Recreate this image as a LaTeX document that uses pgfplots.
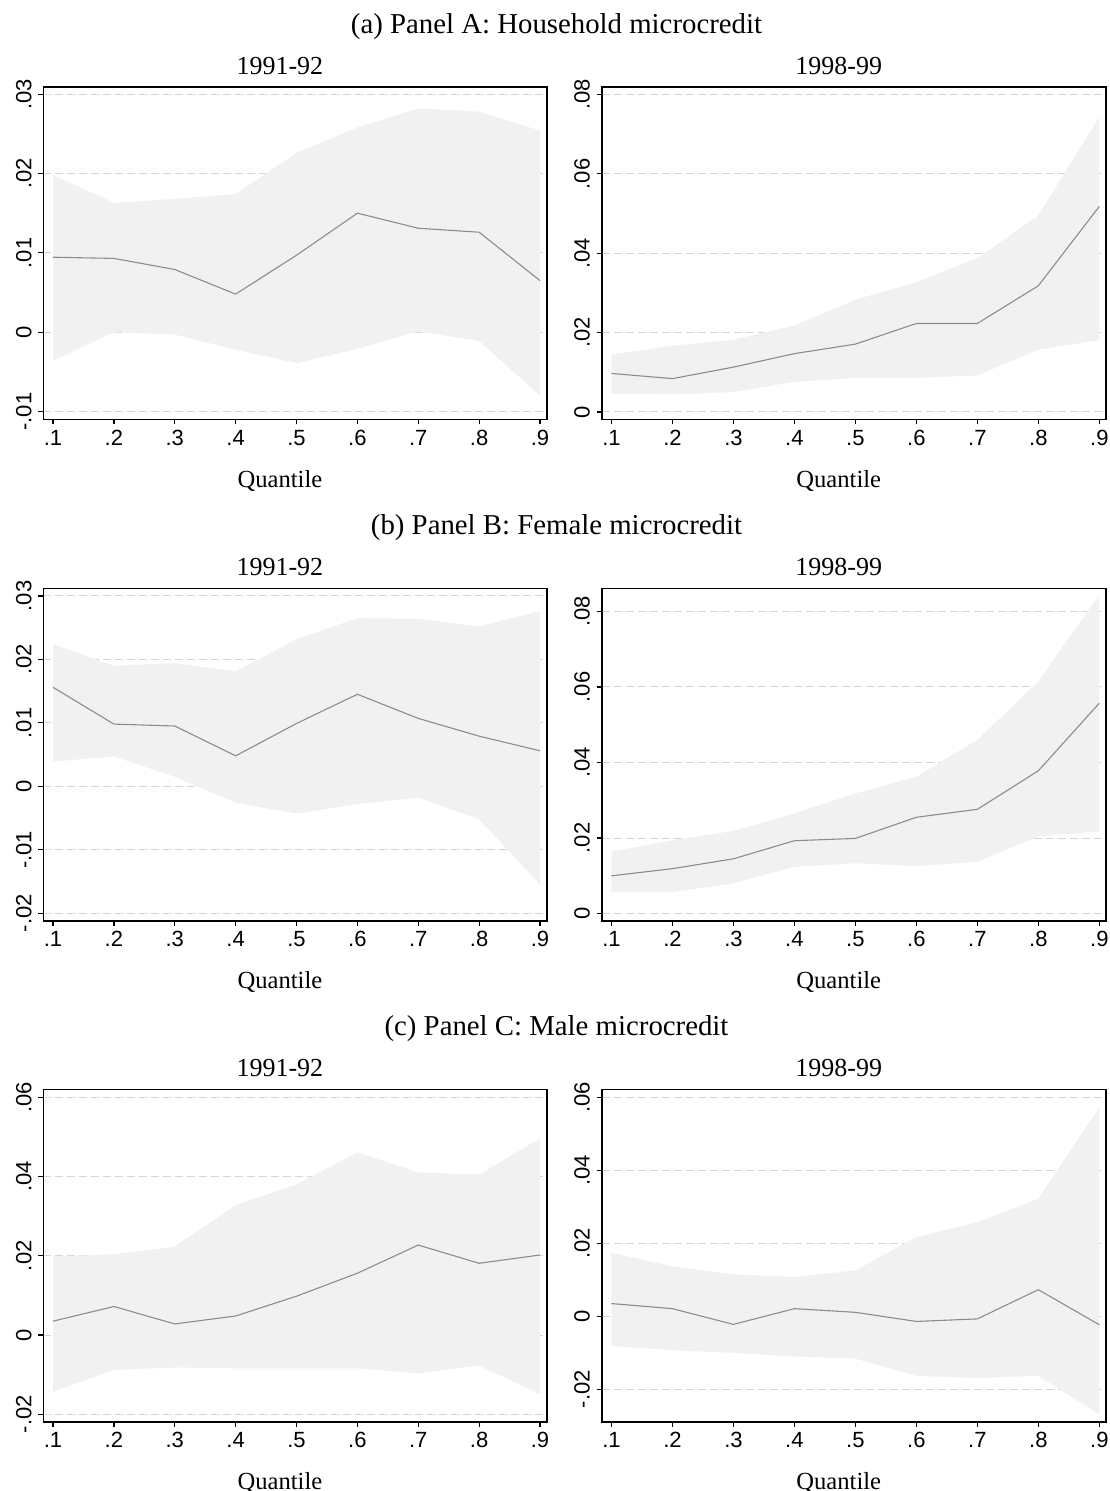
\documentclass[border=0pt]{standalone}
\usepackage{pgfplots}
\pgfplotsset{compat=1.18}
\usepackage{pgfplotstable}
\usepgfplotslibrary{fillbetween}
\usepackage{fontspec}
\setmainfont{Liberation Serif}
\newfontfamily\ticksf{Liberation Sans}
\definecolor{bandgray}{HTML}{F1F1F1}
\definecolor{linegray}{HTML}{8C8C8C}
\definecolor{gridgray}{HTML}{D6D6D6}

% columns: quantile, estimate, lower, upper
\pgfplotstableread{
q est lo hi
0.1 0.00945 -0.0036 0.0198
0.2 0.0093 0.0000 0.0163
0.3 0.0079 -0.0003 0.0168
0.4 0.0048 -0.0022 0.0174
0.5 0.0097 -0.0039 0.0226
0.6 0.0150 -0.0021 0.0258
0.7 0.0131 0.0001 0.0282
0.8 0.0126 -0.0011 0.0278
0.9 0.0065 -0.0080 0.0254
}\tabAl
\pgfplotstableread{
q est lo hi
0.1 0.0097 0.0046 0.0145
0.2 0.0084 0.0044 0.0167
0.3 0.0113 0.0050 0.0182
0.4 0.0147 0.0076 0.0218
0.5 0.0171 0.0086 0.0283
0.6 0.0223 0.0086 0.0327
0.7 0.0223 0.0092 0.0388
0.8 0.0318 0.0157 0.0495
0.9 0.0518 0.0181 0.0744
}\tabAr
\pgfplotstableread{
q est lo hi
0.1 0.0156 0.0039 0.0224
0.2 0.0098 0.0047 0.0190
0.3 0.0095 0.0015 0.0194
0.4 0.0048 -0.0026 0.0181
0.5 0.0099 -0.0043 0.0232
0.6 0.0145 -0.0028 0.0265
0.7 0.0107 -0.0018 0.0264
0.8 0.0079 -0.0052 0.0252
0.9 0.0056 -0.0155 0.0276
}\tabBl
\pgfplotstableread{
q est lo hi
0.1 0.0100 0.0057 0.0164
0.2 0.0119 0.0057 0.0194
0.3 0.0145 0.0080 0.0219
0.4 0.0193 0.0124 0.0265
0.5 0.0199 0.0133 0.0318
0.6 0.0255 0.0126 0.0362
0.7 0.0276 0.0137 0.0460
0.8 0.0378 0.0205 0.0614
0.9 0.0557 0.0217 0.0844
}\tabBr
\pgfplotstableread{
q est lo hi
0.1 0.0035 -0.0143 0.0198
0.2 0.0072 -0.0088 0.0204
0.3 0.0028 -0.0082 0.0223
0.4 0.0048 -0.0084 0.0328
0.5 0.0098 -0.0084 0.0380
0.6 0.0156 -0.0084 0.0461
0.7 0.0227 -0.0097 0.0410
0.8 0.0181 -0.0077 0.0405
0.9 0.0202 -0.0149 0.0496
}\tabCl
\pgfplotstableread{
q est lo hi
0.1 0.0035 -0.0081 0.0174
0.2 0.0021 -0.0093 0.0137
0.3 -0.0022 -0.0100 0.0115
0.4 0.0021 -0.0110 0.0108
0.5 0.0011 -0.0116 0.0126
0.6 -0.0014 -0.0163 0.0217
0.7 -0.0007 -0.0169 0.0258
0.8 0.0073 -0.0163 0.0322
0.9 -0.0023 -0.0268 0.0572
}\tabCr

\pgfplotsset{
  qplot/.style={
    scale only axis, anchor=north west,
    height=166.25bp,
    xmin=0.084, xmax=0.911,
    xtick={0.1,0.2,0.3,0.4,0.5,0.6,0.7,0.8,0.9},
    xticklabels={.1,.2,.3,.4,.5,.6,.7,.8,.9},
    scaled y ticks=false, scaled x ticks=false,
    axis line style={line width=0.8bp, black},
    tick style={black, line width=0.6bp},
    tick align=outside, major tick length=2.5bp,
    xtick pos=bottom, ytick pos=left,
    ymajorgrids,
    grid style={gridgray, line width=0.5bp, dash pattern=on 4bp off 2bp},
    ticklabel style={font=\ticksf\fontsize{11bp}{13bp}\selectfont},
    xticklabel style={inner sep=2.6bp},
    yticklabel style={rotate=90, anchor=south, inner sep=3.2bp},
    xlabel={Quantile},
    every axis x label/.style={font=\fontsize{12.3bp}{14bp}\selectfont, at={(axis description cs:0.47,0)}, anchor=base, yshift=-34bp},
    every axis title/.style={font=\fontsize{13bp}{15bp}\selectfont, at={(axis description cs:0.47,1)}, anchor=center, yshift=10.5bp},
  },
  band/.style={draw=none, fill=bandgray},
  est/.style={linegray, line width=0.55bp, mark=none},
}

\newcommand{\panelplots}[1]{%
  \addplot[draw=none, name path=hi, forget plot] table[x=q, y=hi] {#1};
  \addplot[draw=none, name path=lo, forget plot] table[x=q, y=lo] {#1};
  \addplot[band] fill between[of=hi and lo];
  \addplot[est] table[x=q, y=est] {#1};
}

\begin{document}
\begin{tikzpicture}
\node[font=\fontsize{14.4bp}{17bp}\selectfont, anchor=base] at (278.25bp,-16.5bp) {(a) Panel A: Household microcredit};
\node[font=\fontsize{14.4bp}{17bp}\selectfont, anchor=base] at (278.25bp,-267bp) {(b) Panel B: Female microcredit};
\node[font=\fontsize{14.4bp}{17bp}\selectfont, anchor=base] at (278.25bp,-517.5bp) {(c) Panel C: Male microcredit};

% Panel A
\begin{axis}[qplot, width=251.7bp, at={(21.65bp,-43.5bp)}, title={1991-92},
  ymin=-0.0110, ymax=0.0309, ytick={-0.01,0,0.01,0.02,0.03}, yticklabels={-.01,0,.01,.02,.03}]
\panelplots{\tabAl}
\end{axis}
\begin{axis}[qplot, width=252.15bp, at={(300.85bp,-43.5bp)}, title={1998-99},
  ymin=-0.0019, ymax=0.0819, ytick={0,0.02,0.04,0.06,0.08}, yticklabels={0,.02,.04,.06,.08}]
\panelplots{\tabAr}
\end{axis}

% Panel B
\begin{axis}[qplot, width=251.7bp, at={(21.65bp,-294.15bp)}, title={1991-92},
  ymin=-0.0212, ymax=0.0312, ytick={-0.02,-0.01,0,0.01,0.02,0.03}, yticklabels={-.02,-.01,0,.01,.02,.03}]
\panelplots{\tabBl}
\end{axis}
\begin{axis}[qplot, width=252.15bp, at={(300.85bp,-294.15bp)}, title={1998-99},
  ymin=-0.0019, ymax=0.0861, ytick={0,0.02,0.04,0.06,0.08}, yticklabels={0,.02,.04,.06,.08}]
\panelplots{\tabBr}
\end{axis}

% Panel C
\begin{axis}[qplot, width=251.7bp, at={(21.65bp,-544.65bp)}, title={1991-92},
  ymin=-0.0219, ymax=0.0620, ytick={-0.02,0,0.02,0.04,0.06}, yticklabels={-.02,0,.02,.04,.06}]
\panelplots{\tabCl}
\end{axis}
\begin{axis}[qplot, width=252.15bp, at={(300.85bp,-544.65bp)}, title={1998-99},
  ymin=-0.0289, ymax=0.0622, ytick={-0.02,0,0.02,0.04,0.06}, yticklabels={-.02,0,.02,.04,.06}]
\panelplots{\tabCr}
\end{axis}

\pgfresetboundingbox
\path (0,0) rectangle (555bp,-745.5bp);
\end{tikzpicture}
\end{document}
